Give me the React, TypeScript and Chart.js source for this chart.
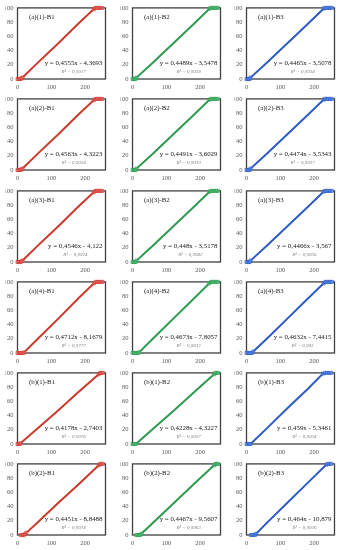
import React, { useEffect, useRef } from "react";
import { Chart, registerables } from "chart.js";
Chart.register(...registerables);

const panelLabels = [
  "(a)(1)-B1", "(a)(1)-B2", "(a)(1)-B3",
  "(a)(2)-B1", "(a)(2)-B2", "(a)(2)-B3",
  "(a)(3)-B1", "(a)(3)-B2", "(a)(3)-B3",
  "(a)(4)-B1", "(a)(4)-B2", "(a)(4)-B3",
  "(b)(1)-B1", "(b)(1)-B2", "(b)(1)-B3",
  "(b)(2)-B1", "(b)(2)-B2", "(b)(2)-B3",
];

const equationTexts = [
  "y = 0,4555x - 4,3693", "y = 0,4489x - 3,5478", "y = 0,4465x - 3,5078",
  "y = 0,4563x - 4,3223", "y = 0,4491x - 3,6029", "y = 0,4474x - 3,5343",
  "y = 0,4546x - 4,122", "y = 0,448x - 3,5178", "y = 0,4466x - 3,567",
  "y = 0,4712x - 8,1679", "y = 0,4673x - 7,8057", "y = 0,4632x - 7,4415",
  "y = 0,4178x - 2,7403", "y = 0,4228x - 4,3227", "y = 0,459x - 5,3461",
  "y = 0,4451x - 8,8488", "y = 0,4467x - 9,5607", "y = 0,464x - 10,879",
];

const slopes = [
  0.4555, 0.4489, 0.4465,
  0.4563, 0.4491, 0.4474,
  0.4546, 0.448, 0.4466,
  0.4712, 0.4673, 0.4632,
  0.4178, 0.4228, 0.459,
  0.4451, 0.4467, 0.464,
];

const intercepts = [
  -4.3693, -3.5478, -3.5078,
  -4.3223, -3.6029, -3.5343,
  -4.122, -3.5178, -3.567,
  -8.1679, -7.8057, -7.4415,
  -2.7403, -4.3227, -5.3461,
  -8.8488, -9.5607, -10.879,
];

const r2Texts = [
  "0,9917", "0,9938", "0,9934",
  "0,9924", "0,9939", "0,9937",
  "0,9924", "0,9942", "0,9936",
  "0,9777", "0,9832", "0,983",
  "0,9976", "0,9957", "0,9934",
  "0,9974", "0,9963", "0,9926",
];

const pointsX = [
  [0, 3, 6, 9, 12, 15, 60, 120, 180, 225, 230, 235, 240, 245, 250],
  [0, 3, 6, 9, 12, 60, 120, 180, 228, 232, 237, 242, 247, 252],
  [0, 3, 6, 9, 12, 60, 120, 180, 228, 232, 237, 242, 247, 252],
  [0, 3, 6, 9, 12, 15, 60, 120, 180, 225, 230, 235, 240, 245, 250],
  [0, 3, 6, 9, 12, 60, 120, 180, 228, 232, 237, 242, 247, 252],
  [0, 3, 6, 9, 12, 60, 120, 180, 228, 232, 237, 242, 247, 252],
  [0, 3, 6, 9, 12, 15, 60, 120, 180, 225, 230, 235, 240, 245, 250],
  [0, 3, 6, 9, 12, 60, 120, 180, 228, 232, 237, 242, 247, 252],
  [0, 3, 6, 9, 12, 60, 120, 180, 228, 232, 237, 242, 247, 252],
  [0, 4, 8, 12, 16, 20, 60, 120, 180, 226, 231, 236, 241, 246, 251],
  [0, 4, 8, 12, 16, 20, 60, 120, 180, 227, 232, 237, 242, 247, 252],
  [0, 4, 8, 12, 16, 20, 60, 120, 180, 228, 233, 238, 243, 248, 253],
  [0, 3, 6, 9, 60, 120, 180, 235, 240, 244, 248, 252],
  [0, 3, 6, 10, 60, 120, 180, 236, 241, 245, 249, 253],
  [0, 4, 8, 12, 60, 120, 180, 226, 232, 238, 244, 250],
  [10, 14, 18, 22, 26, 60, 120, 180, 240, 244, 248, 252],
  [11, 15, 19, 23, 27, 60, 120, 180, 241, 245, 249, 253],
  [13, 17, 21, 25, 29, 60, 120, 180, 236, 240, 245, 250],
];

const pointsY = [
  [0, 0, 0, 0, 1, 2, 23, 50, 78, 98, 100, 100, 100, 100, 100],
  [0, 0, 0, 0, 2, 23, 50, 77, 99, 100, 100, 100, 100, 100],
  [0, 0, 0, 0, 2, 23, 50, 77, 99, 100, 100, 100, 100, 100],
  [0, 0, 0, 0, 1, 2, 23, 50, 78, 98, 100, 100, 100, 100, 100],
  [0, 0, 0, 0, 2, 23, 50, 77, 99, 100, 100, 100, 100, 100],
  [0, 0, 0, 0, 2, 23, 50, 77, 99, 100, 100, 100, 100, 100],
  [0, 0, 0, 0, 1, 2, 23, 50, 78, 98, 100, 100, 100, 100, 100],
  [0, 0, 0, 0, 2, 23, 50, 77, 99, 100, 100, 100, 100, 100],
  [0, 0, 0, 0, 2, 23, 50, 77, 99, 100, 100, 100, 100, 100],
  [0, 0, 0, 0, 0, 1, 20, 48, 77, 98, 100, 100, 100, 100, 100],
  [0, 0, 0, 0, 0, 1, 20, 48, 76, 98, 100, 100, 100, 100, 100],
  [0, 0, 0, 0, 0, 2, 20, 48, 76, 98, 100, 100, 100, 100, 100],
  [0, 0, 0, 1, 22, 47, 73, 96, 98, 100, 100, 100],
  [0, 0, 0, 0, 21, 46, 72, 96, 98, 100, 100, 100],
  [0, 0, 0, 0, 22, 50, 77, 99, 100, 100, 100, 100],
  [0, 0, 0, 1, 3, 18, 45, 71, 98, 100, 100, 100],
  [0, 0, 0, 0, 2, 17, 44, 71, 98, 100, 100, 100],
  [0, 0, 0, 0, 2, 17, 45, 73, 99, 100, 100, 100],
];

const xTickValues = [0, 100, 200];
const yTickValues = [0, 20, 40, 60, 80, 100];
const xMax = 260;
const yMax = 100;

const seriesColors = ["#cc3a2c", "#2f9a50", "#2e5cc4"];
const markerFills = ["rgba(240,110,120,0.55)", "rgba(90,200,130,0.55)", "rgba(100,150,240,0.55)"];
const colLefts = [0, 115, 229];
const rowTops = [0, 91, 183, 274, 365, 456];

const framePlugin = {
  id: "frame",
  beforeDatasetsDraw(chart: any) {
    const { ctx, chartArea: a } = chart;
    ctx.save();
    ctx.strokeStyle = "#404040";
    ctx.lineWidth = 1.3;
    ctx.strokeRect(a.left, a.top, a.right - a.left, a.bottom - a.top);
    ctx.restore();
  },
  afterDatasetsDraw(chart: any, _args: any, opts: any) {
    const { ctx, chartArea: a } = chart;
    ctx.save();
    ctx.fillStyle = "#1a1a1a";
    ctx.textBaseline = "middle";
    ctx.textAlign = "left";
    ctx.font = '6.8px "Liberation Serif"';
    ctx.fillText(opts.label, a.left + 11.5, a.top + 9);
    ctx.textAlign = "right";
    ctx.font = '6.9px "Liberation Serif"';
    ctx.fillText(opts.eq, a.right - 3, a.top + 55);
    const w = ctx.measureText(opts.eq).width;
    ctx.textAlign = "center";
    ctx.fillStyle = "#808080";
    ctx.font = 'italic 5px "Liberation Serif"';
    ctx.fillText("R\u00b2 = " + opts.r2, a.right - 3 - w / 2, a.top + 63.5);
    ctx.restore();
  },
};

function Panel({ idx }: { idx: number }) {
  const ref = useRef<HTMLCanvasElement>(null);
  useEffect(() => {
    const col = idx % 3;
    const xs = pointsX[idx];
    const ys = pointsY[idx];
    const data = xs.map((x, i) => ({ x, y: ys[i] }));
    const xMin = Math.min(...xs);
    const xHi = Math.max(...xs);
    const trend = [
      { x: xMin, y: slopes[idx] * xMin + intercepts[idx] },
      { x: xHi, y: slopes[idx] * xHi + intercepts[idx] },
    ];
    const tickFont = { family: "Liberation Serif", size: 6.5 };
    const chart = new Chart(ref.current as HTMLCanvasElement, {
      type: "scatter",
      data: {
        datasets: [
          {
            data,
            showLine: true,
            borderColor: seriesColors[col],
            borderWidth: 2,
            backgroundColor: markerFills[col],
            pointBorderColor: seriesColors[col],
            pointBorderWidth: 0.6,
            pointRadius: (c: any) => {
              const v = c.raw ? c.raw.y : 0;
              return v <= 3 || v >= 97 ? 2.2 : 0;
            },
            pointStyle: "rect",
            clip: 5,
          } as any,
          {
            data: trend,
            showLine: true,
            borderColor: "#2e2e2e",
            borderWidth: 0.9,
            pointRadius: 0,
            clip: 0,
          } as any,
        ],
      },
      options: {
        animation: false,
        responsive: false,
        events: [],
        layout: { padding: { left: 5.5, right: 7.5, top: 7, bottom: 0 } },
        plugins: {
          legend: { display: false },
          tooltip: { enabled: false },
          frame: { label: panelLabels[idx], eq: equationTexts[idx], r2: r2Texts[idx] },
        } as any,
        scales: {
          x: {
            type: "linear",
            min: 0,
            max: xMax,
            grid: { display: false, drawTicks: false },
            border: { display: false },
            ticks: { font: tickFont, color: "#595959", padding: 4.5, maxRotation: 0 },
            afterBuildTicks: (s: any) => {
              s.ticks = xTickValues.map((v) => ({ value: v }));
            },
            afterFit: (s: any) => {
              s.height = 12;
            },
          },
          y: {
            type: "linear",
            min: 0,
            max: yMax,
            grid: { display: false, drawTicks: false },
            border: { display: false },
            ticks: { font: tickFont, color: "#595959", padding: 4 },
            afterBuildTicks: (s: any) => {
              s.ticks = yTickValues.map((v) => ({ value: v }));
            },
            afterFit: (s: any) => {
              s.width = 12;
            },
          },
        },
      } as any,
      plugins: [framePlugin as any],
    });
    return () => chart.destroy();
  }, [idx]);
  const col = idx % 3;
  const row = Math.floor(idx / 3);
  return (
    <canvas
      ref={ref}
      width={113}
      height={91}
      style={{ position: "absolute", left: colLefts[col], top: rowTops[row], width: 113, height: 91 }}
    />
  );
}

export default function App() {
  return (
    <div style={{ position: "fixed", left: 0, top: 0, width: 340, height: 550, background: "#fff" }}>
      {panelLabels.map((_, i) => (
        <Panel key={i} idx={i} />
      ))}
    </div>
  );
}
